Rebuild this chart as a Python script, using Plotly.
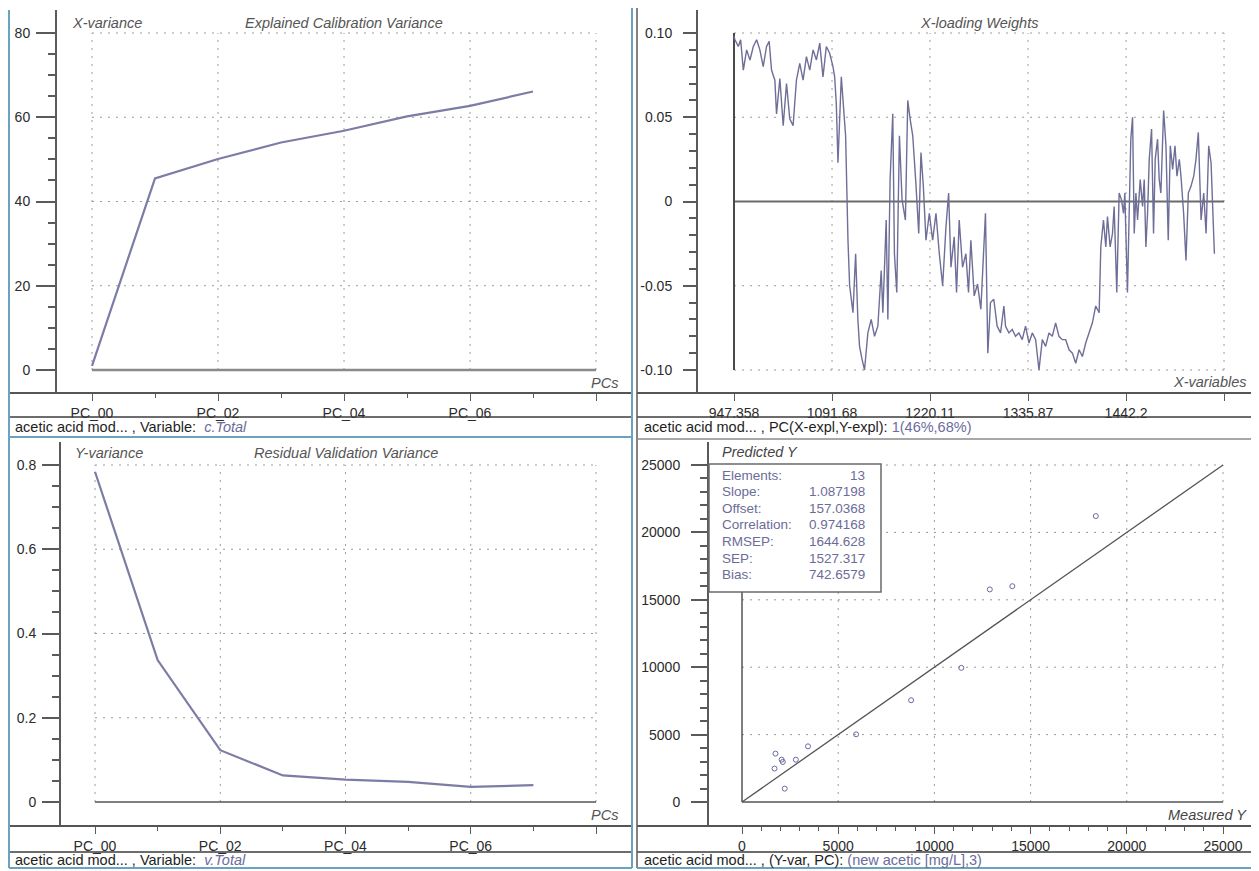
import plotly.graph_objects as go

W, H = 1259, 871
OFF = 8  # the page keeps the browser's default 8px body margin
FW, FH = W - OFF, H - OFF

# ---- values ----
PCS = [0, 1, 2, 3, 4, 5, 6, 7]
X_VARIANCE = [1.0, 45.5, 50.1, 54.0, 56.8, 60.2, 62.7, 66.1]
Y_VARIANCE = [0.784, 0.337, 0.123, 0.063, 0.053, 0.048, 0.036, 0.040]
PC_TICKS = [0, 2, 4, 6, 8]
PC_LABELS = ["PC_00", "PC_02", "PC_04", "PC_06", ""]

VAR_INDEX = [
    0, 1.0, 4.4, 6.8, 9.5, 12.9, 16.3, 19.7, 23.1, 26.4, 29.8, 33.2, 35.9, 38.3,
    41.7, 43.4, 46.8, 50.2, 53.6, 56.9, 60.3, 63.7, 67.1, 70.5, 73.9, 77.3, 80.7,
    84.1, 87.5, 90.8, 94.2, 97.6, 101.0, 102.7, 104.4, 106.1, 109.5, 111.2, 113.9,
    116.3, 118.0, 121.4, 124.1, 126.4, 128.1, 130.8, 133.2, 136.6, 140.0, 143.4,
    146.8, 150.2, 151.9, 155.3, 157.0, 159.3, 162.0, 163.7, 166.1, 168.8, 171.5,
    174.9, 177.3, 179.7, 182.4, 185.8, 188.5, 190.8, 193.2, 195.9, 199.3, 202.7,
    206.1, 209.5, 212.9, 216.3, 219.0, 221.4, 224.7, 227.1, 229.8, 233.2, 236.6,
    239.3, 241.7, 245.1, 248.5, 251.9, 256.6, 259.0, 261.7, 265.1, 268.5, 272.0,
    275.4, 277.1, 280.5, 283.9, 287.3, 290.7, 294.1, 297.5, 301.0, 304.4, 307.8,
    311.2, 314.6, 318.0, 321.4, 324.8, 328.2, 331.6, 335.0, 338.5, 341.9, 345.3,
    348.7, 352.1, 355.5, 358.9, 362.3, 365.7, 369.1, 372.6, 374.3, 377.0, 379.4,
    381.1, 383.8, 386.2, 387.9, 390.6, 393.0, 395.4, 397.5, 398.8, 401.5, 403.2,
    404.9, 406.7, 408.4, 410.1, 411.8, 414.5, 416.9, 418.6, 420.3, 422.0, 423.7,
    426.1, 428.1, 429.8, 432.2, 433.9, 435.6, 438.4, 440.8, 443.1, 445.2, 447.6,
    450.0, 452.0, 454.4, 456.1, 458.8, 461.2, 463.6, 466.3, 469.1, 471.4, 473.8,
    476.6, 479.3, 481.7, 484.4, 486.8, 489.2, 490.2,
]
X_LOADING = [
    0.098, 0.096, 0.092, 0.096, 0.078, 0.090, 0.084, 0.092, 0.096, 0.090, 0.080,
    0.092, 0.095, 0.078, 0.072, 0.052, 0.073, 0.045, 0.070, 0.049, 0.045, 0.072,
    0.082, 0.072, 0.086, 0.078, 0.090, 0.084, 0.094, 0.074, 0.092, 0.088, 0.080,
    0.074, 0.058, 0.023, 0.074, 0.058, 0.039, -0.023, -0.050, -0.066, -0.031,
    -0.070, -0.086, -0.094, -0.100, -0.078, -0.070, -0.080, -0.074, -0.041,
    -0.066, -0.011, -0.070, 0.013, 0.052, -0.031, -0.054, 0.039, 0.001, -0.011,
    0.060, 0.049, 0.039, 0.009, -0.019, 0.029, 0.009, -0.023, -0.007, -0.023,
    -0.007, -0.031, -0.050, -0.015, 0.005, -0.039, -0.021, -0.054, -0.011,
    -0.039, -0.031, -0.054, -0.023, -0.056, -0.049, -0.064, -0.007, -0.090,
    -0.060, -0.058, -0.074, -0.078, -0.062, -0.074, -0.078, -0.076, -0.080,
    -0.078, -0.082, -0.074, -0.084, -0.078, -0.082, -0.100, -0.082, -0.086,
    -0.078, -0.080, -0.072, -0.080, -0.082, -0.082, -0.088, -0.090, -0.096,
    -0.088, -0.092, -0.084, -0.078, -0.072, -0.062, -0.066, -0.027, -0.011,
    -0.027, -0.009, -0.027, -0.019, -0.003, -0.054, 0.005, 0.001, -0.007, 0.005,
    -0.054, -0.011, 0.037, 0.050, -0.019, 0.005, -0.011, 0.013, -0.003, 0.013,
    -0.027, -0.007, 0.025, 0.043, -0.019, 0.025, 0.037, 0.013, 0.005, 0.054,
    0.033, -0.023, 0.033, 0.019, 0.033, 0.015, 0.025, 0.015, -0.007, -0.035,
    0.005, 0.009, 0.015, 0.025, 0.041, -0.011, 0.005, -0.019, 0.033, 0.023,
    -0.011, -0.031,
]
VAR_TICKS = [0, 100, 200, 300, 400, 500]
VAR_LABELS = ["947.358", "1091.68", "1220.11", "1335.87", "1442.2", ""]
LOAD_TICKS = [-0.10, -0.05, 0, 0.05, 0.10]
LOAD_LABELS = ["-0.10", "-0.05", "0", "0.05", "0.10"]

MEASURED_Y = [18390, 12880, 14050, 11400, 8790, 5930, 3430, 2800, 1740, 2060, 2120, 1690, 2220]
PREDICTED_Y = [21210, 15770, 16010, 9950, 7550, 5020, 4130, 3140, 3590, 3140, 2970, 2480, 990]
STAT_NAMES = ["Elements:", "Slope:", "Offset:", "Correlation:", "RMSEP:", "SEP:", "Bias:"]
STAT_VALUES = ["13", "1.087198", "157.0368", "0.974168", "1644.628", "1527.317", "742.6579"]

FONT = "Liberation Sans, Arial, sans-serif"
TICKFONT = dict(family=FONT, size=14, color="#2b2b2b")
AXIS = "#5a5a5a"
GRID = "#9a9a9a"
LINE = "#7c7ca6"
STATC = "#6c6c98"


# positions below are screenshot pixels; convert to paper fractions
def px(x):
    return (x - OFF) / FW


def py(y):
    return 1 - (y - OFF) / FH


def span(p0, p1, pa, va, pb, vb):
    # value range of an axis whose domain runs from pixel p0 to p1
    k = (vb - va) / (pb - pa)
    return [va + (p0 - pa) * k, va + (p1 - pa) * k]


def xaxis(dom, rng, anchor, tickvals, ticktext, minor_vals=None):
    d = dict(domain=[px(dom[0]), px(dom[1])], range=rng, anchor=anchor,
             tickmode="array", tickvals=tickvals, ticktext=ticktext,
             ticks="outside", ticklen=7, tickwidth=1, tickcolor=AXIS,
             tickfont=TICKFONT, showgrid=False, zeroline=False, showline=False,
             fixedrange=True)
    if minor_vals:
        d["minor"] = dict(tickmode="array", tickvals=minor_vals, ticks="outside",
                          ticklen=4, tickwidth=1, tickcolor=AXIS, showgrid=False)
    return d


def yaxis(dom, rng, anchor, tickvals, ticktext, minor_vals, ticklen=17, standoff=3):
    return dict(domain=[py(dom[0]), py(dom[1])], range=rng, anchor=anchor,
                tickmode="array", tickvals=tickvals, ticktext=ticktext,
                ticks="outside", ticklen=ticklen, tickwidth=1.5, tickcolor=AXIS,
                ticklabelstandoff=standoff,
                tickfont=TICKFONT, showgrid=False, zeroline=False,
                showline=True, linecolor=AXIS, linewidth=2, fixedrange=True,
                minor=dict(tickmode="array", tickvals=minor_vals, ticks="outside",
                           ticklen=7, tickwidth=1.5, tickcolor=AXIS, showgrid=False))


fig = go.Figure()

fig.add_trace(go.Scatter(x=PCS, y=X_VARIANCE, mode="lines", xaxis="x", yaxis="y",
                         line=dict(color=LINE, width=2.2), hoverinfo="skip"))
fig.add_trace(go.Scatter(x=VAR_INDEX, y=X_LOADING, mode="lines", xaxis="x2", yaxis="y2",
                         line=dict(color="#6e6e98", width=1.4), hoverinfo="skip"))
fig.add_trace(go.Scatter(x=PCS, y=Y_VARIANCE, mode="lines", xaxis="x3", yaxis="y3",
                         line=dict(color=LINE, width=2.2), hoverinfo="skip"))
fig.add_trace(go.Scatter(x=MEASURED_Y, y=PREDICTED_Y, mode="markers", xaxis="x4", yaxis="y4",
                         marker=dict(symbol="circle-open", size=5, color="#6a6a9e",
                                     line=dict(width=1, color="#6a6a9e")),
                         hoverinfo="skip"))

odd_pcs = [p for p in PCS if p % 2]

fig.update_layout(
    width=FW, height=FH, margin=dict(l=0, r=0, t=0, b=0),
    paper_bgcolor="white", plot_bgcolor="white", showlegend=False,
    font=dict(family=FONT, color="#2b2b2b"),
    xaxis=xaxis((57, 630), span(57, 630, 92, 0, 596, 8), "y", PC_TICKS, PC_LABELS, odd_pcs),
    yaxis=yaxis((393, 10), span(393, 10, 370, 0, 33, 80), "x", [0, 20, 40, 60, 80],
                ["0", "20", "40", "60", "80"], list(range(0, 81, 5)), ticklen=19),
    xaxis2=xaxis((698, 1256), span(698, 1256, 734, 0, 1224, 500), "y2", VAR_TICKS, VAR_LABELS),
    yaxis2=yaxis((393, 10), span(393, 10, 370, -0.10, 33, 0.10), "x2", LOAD_TICKS, LOAD_LABELS,
                 [i / 100 for i in range(-10, 11)], ticklen=13, standoff=8),
    xaxis3=xaxis((61, 630), span(61, 630, 95, 0, 596, 8), "y3", PC_TICKS, PC_LABELS, odd_pcs),
    yaxis3=yaxis((826, 442), span(826, 442, 802, 0, 465, 0.8), "x3", [0, 0.2, 0.4, 0.6, 0.8],
                 ["0", "0.2", "0.4", "0.6", "0.8"], [i / 100 for i in range(0, 81, 5)]),
    xaxis4=xaxis((709, 1256), span(709, 1256, 742, 0, 1223, 25000), "y4",
                 [0, 5000, 10000, 15000, 20000, 25000],
                 ["0", "5000", "10000", "15000", "20000", "25000"],
                 [v for v in range(0, 25001, 1000) if v % 5000]),
    yaxis4=yaxis((826, 442), span(826, 442, 802, 0, 465, 25000), "x4",
                 [0, 5000, 10000, 15000, 20000, 25000],
                 ["0", "5000", "10000", "15000", "20000", "25000"],
                 list(range(0, 25001, 1000)), ticklen=16, standoff=8),
)

shapes = []


def dline(xr, yr, x0, y0, x1, y1, color, width, dash="solid", layer="below"):
    shapes.append(dict(type="line", xref=xr, yref=yr, x0=x0, y0=y0, x1=x1, y1=y1,
                       line=dict(color=color, width=width, dash=dash), layer=layer))


def pline(x0, y0, x1, y1, color, width):
    shapes.append(dict(type="line", xref="paper", yref="paper",
                       x0=px(x0), y0=py(y0), x1=px(x1), y1=py(y1),
                       line=dict(color=color, width=width), layer="above"))


DOT = "2px,6px"

# dotted grids, confined to the data frame like in the original
for xv in PC_TICKS:
    dline("x", "y", xv, 0, xv, 80, GRID, 1, DOT)
    dline("x3", "y3", xv, 0, xv, 0.8, GRID, 1, DOT)
for yv in [20, 40, 60, 80]:
    dline("x", "y", 0, yv, 8, yv, GRID, 1, DOT)
for yv in [0.2, 0.4, 0.6, 0.8]:
    dline("x3", "y3", 0, yv, 8, yv, GRID, 1, DOT)
for xv in VAR_TICKS[1:]:
    dline("x2", "y2", xv, -0.10, xv, 0.10, GRID, 1, DOT)
for yv in [-0.10, -0.05, 0.05, 0.10]:
    dline("x2", "y2", 0, yv, 500, yv, GRID, 1, DOT)
for v in [5000, 10000, 15000, 20000, 25000]:
    dline("x4", "y4", v, 0, v, 25000, GRID, 1, DOT)
    dline("x4", "y4", 0, v, 25000, v, GRID, 1, DOT)

# baselines / reference lines
dline("x", "y", 0, 0, 8, 0, "#8a8a8a", 2.5)
dline("x3", "y3", 0, 0, 8, 0, "#555555", 1.5)
dline("x2", "y2", 0, 0, 500, 0, "#6a6a6a", 1.8)
dline("x2", "y2", 0, -0.10, 0, 0.10, "#4a4a4a", 2)
dline("x4", "y4", 0, 0, 25000, 0, "#555555", 1.5)
dline("x4", "y4", 0, 0, 0, 25000, "#555555", 1.5)
dline("x4", "y4", 0, 0, 25000, 25000, "#555555", 1.3)

# statistics box (covers the upper part of the vertical frame line)
shapes.append(dict(type="rect", xref="paper", yref="paper",
                   x0=px(709), x1=px(881), y0=py(592), y1=py(464),
                   fillcolor="white", line=dict(color="#6a6a6a", width=1.5), layer="above"))

# window chrome: axis strips, footers and pane borders
for (l, r) in [(9, 632), (637, 1257)]:
    pline(l, 393, r, 393, "#555555", 2)
    pline(l, 417, r, 417, "#3c3c3c", 1.5)
    pline(l, 826, r, 826, "#555555", 2)
    pline(l, 852, r, 852, "#3c3c3c", 1.5)
BLUE = "#6aa3bf"
pline(9, 10, 9, 868, BLUE, 2)
pline(632, 8, 632, 868, BLUE, 2)
pline(9, 437, 632, 437, BLUE, 2)
pline(9, 868, 632, 868, BLUE, 2)
pline(637, 8, 637, 868, "#5a5a5a", 1.5)
pline(1257, 8, 1257, 868, "#8a8a8a", 1.5)
pline(637, 439, 1257, 439, "#8a8a8a", 1.5)
pline(637, 868, 1257, 868, BLUE, 2)

fig.update_layout(shapes=shapes)

ann = []


def text(x, y, s, anchor="left", size=14.5, color="#555555", italic=False):
    if italic:
        s = "<i>" + s + "</i>"
    ann.append(dict(x=px(x), y=py(y), xref="paper", yref="paper", text=s,
                    showarrow=False, xanchor=anchor, yanchor="middle",
                    font=dict(family=FONT, size=size, color=color)))


text(70, 23, "X-variance", italic=True)
text(344, 23, "Explained Calibration Variance", "center", italic=True)
text(620, 383, "PCs", "right", italic=True)
text(979, 23, "X-loading Weights", "center", italic=True)
text(1249, 382, "X-variables", "right", italic=True)
text(73, 453, "Y-variance", italic=True)
text(346, 453, "Residual Validation Variance", "center", italic=True)
text(620, 815, "PCs", "right", italic=True)
text(720, 452, "Predicted Y", italic=True, color="#444444")
text(1249, 815, "Measured Y", "right", italic=True, color="#444444")

for i, (name, val) in enumerate(zip(STAT_NAMES, STAT_VALUES)):
    y = 475 + i * 16.6
    text(720, y, name, size=13.5, color=STATC)
    text(867, y, val, "right", size=13.5, color=STATC)

blue_span = '<span style="color:#6c6c9c">%s</span>'
text(13, 427, "acetic acid mod... , Variable:  " + blue_span % "<i>c.Total</i>", color="#1e1e1e")
text(642, 427, "acetic acid mod... , PC(X-expl,Y-expl): " + blue_span % "1(46%,68%)", color="#1e1e1e")
text(13, 860, "acetic acid mod... , Variable:  " + blue_span % "<i>v.Total</i>", color="#1e1e1e")
text(642, 860, "acetic acid mod... , (Y-var, PC): " + blue_span % "(new acetic [mg/L],3)", color="#1e1e1e")

fig.update_layout(annotations=ann)

fig.write_html("out.html")
